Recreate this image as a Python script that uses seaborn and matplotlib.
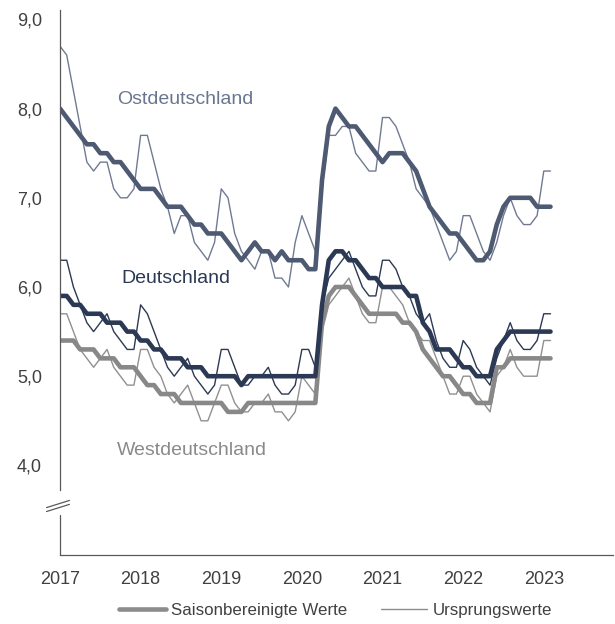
import numpy as np
import pandas as pd
import matplotlib
matplotlib.use('Agg')
import matplotlib.pyplot as plt
from matplotlib.lines import Line2D
import seaborn as sns

# Arbeitslosenquoten, monatlich Jan 2017 - Feb 2023
jahre = ['2017', '2018', '2019', '2020', '2021', '2022', '2023']
y_ticks = [4, 5, 6, 7, 8, 9]
y_labels = ['4,0', '5,0', '6,0', '7,0', '8,0', '9,0']

ost_ursprung = [8.7, 8.6, 8.2, 7.8, 7.4, 7.3, 7.4, 7.4, 7.1, 7.0, 7.0, 7.1,
                7.7, 7.7, 7.4, 7.1, 6.9, 6.6, 6.8, 6.8, 6.5, 6.4, 6.3, 6.5,
                7.1, 7.0, 6.6, 6.4, 6.3, 6.2, 6.4, 6.4, 6.1, 6.1, 6.0, 6.5,
                6.8, 6.6, 6.4, 7.1, 7.7, 7.7, 7.8, 7.8, 7.5, 7.4, 7.3, 7.3,
                7.9, 7.9, 7.8, 7.6, 7.4, 7.1, 7.0, 6.9, 6.7, 6.5, 6.3, 6.4,
                6.8, 6.8, 6.6, 6.4, 6.3, 6.5, 6.8, 7.0, 6.8, 6.7, 6.7, 6.8,
                7.3, 7.3]
ost_saison = [8.0, 7.9, 7.8, 7.7, 7.6, 7.6, 7.5, 7.5, 7.4, 7.4, 7.3, 7.2,
              7.1, 7.1, 7.1, 7.0, 6.9, 6.9, 6.9, 6.8, 6.7, 6.7, 6.6, 6.6,
              6.6, 6.5, 6.4, 6.3, 6.4, 6.5, 6.4, 6.4, 6.3, 6.4, 6.3, 6.3,
              6.3, 6.2, 6.2, 7.2, 7.8, 8.0, 7.9, 7.8, 7.8, 7.7, 7.6, 7.5,
              7.4, 7.5, 7.5, 7.5, 7.4, 7.3, 7.1, 6.9, 6.8, 6.7, 6.6, 6.6,
              6.5, 6.4, 6.3, 6.3, 6.4, 6.7, 6.9, 7.0, 7.0, 7.0, 7.0, 6.9,
              6.9, 6.9]
de_ursprung = [6.3, 6.3, 6.0, 5.8, 5.6, 5.5, 5.6, 5.7, 5.5, 5.4, 5.3, 5.3,
               5.8, 5.7, 5.5, 5.3, 5.1, 5.0, 5.1, 5.2, 5.0, 4.9, 4.8, 4.9,
               5.3, 5.3, 5.1, 4.9, 4.9, 5.0, 5.0, 5.1, 4.9, 4.8, 4.8, 4.9,
               5.3, 5.3, 5.1, 5.8, 6.1, 6.2, 6.3, 6.4, 6.2, 6.0, 5.9, 5.9,
               6.3, 6.3, 6.2, 6.0, 5.9, 5.7, 5.6, 5.7, 5.4, 5.2, 5.1, 5.1,
               5.4, 5.3, 5.1, 5.0, 4.9, 5.2, 5.4, 5.6, 5.4, 5.3, 5.3, 5.4,
               5.7, 5.7]
de_saison = [5.9, 5.9, 5.8, 5.8, 5.7, 5.7, 5.7, 5.6, 5.6, 5.6, 5.5, 5.5,
             5.4, 5.4, 5.3, 5.3, 5.2, 5.2, 5.2, 5.1, 5.1, 5.1, 5.0, 5.0,
             5.0, 5.0, 5.0, 4.9, 5.0, 5.0, 5.0, 5.0, 5.0, 5.0, 5.0, 5.0,
             5.0, 5.0, 5.0, 5.8, 6.3, 6.4, 6.4, 6.3, 6.3, 6.2, 6.1, 6.1,
             6.0, 6.0, 6.0, 6.0, 5.9, 5.9, 5.6, 5.5, 5.3, 5.3, 5.3, 5.2,
             5.1, 5.1, 5.0, 5.0, 5.0, 5.3, 5.4, 5.5, 5.5, 5.5, 5.5, 5.5,
             5.5, 5.5]
west_ursprung = [5.7, 5.7, 5.5, 5.3, 5.2, 5.1, 5.2, 5.3, 5.1, 5.0, 4.9, 4.9,
                 5.3, 5.3, 5.1, 5.0, 4.8, 4.7, 4.8, 4.9, 4.7, 4.5, 4.5, 4.7,
                 4.9, 4.9, 4.7, 4.6, 4.6, 4.7, 4.7, 4.8, 4.6, 4.6, 4.5, 4.6,
                 5.0, 4.9, 4.8, 5.5, 5.8, 5.9, 6.0, 6.1, 5.9, 5.7, 5.6, 5.6,
                 6.0, 6.0, 5.9, 5.8, 5.6, 5.5, 5.4, 5.4, 5.2, 5.0, 4.8, 4.8,
                 5.0, 5.0, 4.8, 4.7, 4.6, 5.0, 5.1, 5.3, 5.1, 5.0, 5.0, 5.0,
                 5.4, 5.4]
west_saison = [5.4, 5.4, 5.4, 5.3, 5.3, 5.3, 5.2, 5.2, 5.2, 5.1, 5.1, 5.1,
               5.0, 4.9, 4.9, 4.8, 4.8, 4.8, 4.7, 4.7, 4.7, 4.7, 4.7, 4.7,
               4.7, 4.6, 4.6, 4.6, 4.7, 4.7, 4.7, 4.7, 4.7, 4.7, 4.7, 4.7,
               4.7, 4.7, 4.7, 5.6, 5.9, 6.0, 6.0, 6.0, 5.9, 5.8, 5.7, 5.7,
               5.7, 5.7, 5.7, 5.6, 5.6, 5.5, 5.3, 5.2, 5.1, 5.0, 5.0, 4.9,
               4.8, 4.8, 4.7, 4.7, 4.7, 5.1, 5.1, 5.2, 5.2, 5.2, 5.2, 5.2,
               5.2, 5.2]

monat = np.arange(len(de_saison))
df = pd.DataFrame({'monat': monat,
                   'ost_u': ost_ursprung, 'ost_s': ost_saison,
                   'de_u': de_ursprung, 'de_s': de_saison,
                   'west_u': west_ursprung, 'west_s': west_saison})

sns.set_style('white')
plt.rcParams['font.family'] = ['Liberation Sans', 'DejaVu Sans']

c_ost, c_ost_thin = '#4e5a72', '#6f7a92'
c_de = '#2c3954'
c_west, c_west_thin = '#888888', '#909090'
c_axis = '#595959'
c_text = '#404040'

fig = plt.figure(figsize=(6.15, 6.24), dpi=100)
ax = fig.add_axes([60 / 615, 69.4 / 624, 553 / 615, 545.9 / 624])

# Ursprungswerte (dünn)
for col, c in [('west_u', c_west_thin), ('de_u', c_de), ('ost_u', c_ost_thin)]:
    sns.lineplot(data=df, x='monat', y=col, color=c, linewidth=1.0, ax=ax,
                 legend=False)
# Saisonbereinigte Werte (dick)
for col, c in [('west_s', c_west), ('de_s', c_de), ('ost_s', c_ost)]:
    sns.lineplot(data=df, x='monat', y=col, color=c, linewidth=3.3, ax=ax,
                 legend=False, solid_capstyle='round', solid_joinstyle='round')

ax.set_xlim(0, 82.3)
ax.set_ylim(3.0, 9.12)
ax.set_xticks(np.arange(0, 12 * len(jahre), 12))
ax.set_xticklabels(jahre)
ax.set_yticks(y_ticks)
ax.set_yticklabels(y_labels)
ax.set_xlabel('')
ax.set_ylabel('')
ax.tick_params(axis='both', length=0, labelsize=13, colors=c_text)
ax.tick_params(axis='x', pad=12)
ax.tick_params(axis='y', pad=13)

for s in ['top', 'right']:
    ax.spines[s].set_visible(False)
for s in ['left', 'bottom']:
    ax.spines[s].set_color(c_axis)
    ax.spines[s].set_linewidth(0.9)
ax.spines['left'].set_bounds(3.72, 9.1)
ax.plot([0, 0], [3.0, 3.44], color=c_axis, lw=0.9, clip_on=False)
# Achsenbruch
for off in (-0.022, 0.022):
    ax.plot([-2.0, 1.4], [3.505 + off, 3.585 + off], color=c_axis, lw=0.9,
            clip_on=False)

ax.text(8.5, 8.1, 'Ostdeutschland', color='#6a7590', fontsize=14,
        ha='left', va='center')
ax.text(9.2, 6.1, 'Deutschland', color=c_de, fontsize=14,
        ha='left', va='center')
ax.text(8.5, 4.17, 'Westdeutschland', color='#8a8a8a', fontsize=14,
        ha='left', va='center')

handles = [Line2D([], [], color='#8c8c8c', lw=3.3),
           Line2D([], [], color='#8c8c8c', lw=1.0)]
fig.legend(handles, ['Saisonbereinigte Werte', 'Ursprungswerte'],
           loc='center', bbox_to_anchor=(0.5455, 0.021), ncol=2,
           frameon=False, fontsize=12.2, handlelength=2.75,
           handletextpad=0.3, columnspacing=2.0, labelcolor=c_text)

fig.savefig('out.png', dpi=100)
